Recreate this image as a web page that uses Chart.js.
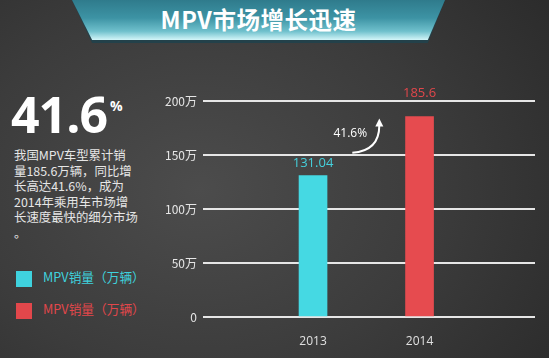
<!DOCTYPE html>
<html><head><meta charset="utf-8">
<script src="https://cdn.jsdelivr.net/npm/chart.js@4/dist/chart.umd.min.js"></script>
<style>
html,body{margin:0;padding:0;width:549px;height:358px;overflow:hidden;}
body{background:radial-gradient(ellipse 420px 330px at 200px 190px,#4c4c4c 0%,#3c3c3c 55%,#2c2c2c 100%);font-family:"Noto Sans CJK SC","Noto Sans",sans-serif;position:relative;}
#wrap{position:absolute;left:0;top:0;width:549px;height:358px;}
#banner{position:absolute;left:72px;top:0;width:373px;height:43px;background:#23414a;clip-path:polygon(0 0,100% 0,95.4% 100%,5.4% 100%);}
#bannerIn{position:absolute;left:72px;top:0;width:373px;height:40px;background:linear-gradient(180deg,#2f7b8c 0%,#3d93a4 45%,#6fc0cc 78%,#d4f6f9 100%);clip-path:polygon(0 0,100% 0,95.4% 100%,5.4% 100%);}
#title{position:absolute;left:72px;top:4px;width:373px;text-align:center;color:#fff;font-weight:bold;font-size:23.5px;line-height:30px;letter-spacing:0.5px;}
#big{position:absolute;left:11px;top:86px;color:#fff;font-family:"Open Sans","Noto Sans",sans-serif;font-weight:bold;font-size:50px;line-height:56px;letter-spacing:-1px;}
#pct{position:absolute;left:110px;top:96px;color:#fff;font-family:"Open Sans",sans-serif;font-weight:bold;font-size:14px;}
#desc{position:absolute;left:14px;top:148px;color:#e6e6e6;font-size:12.4px;line-height:15.5px;}
.leg{position:absolute;left:16px;font-size:12.7px;}
.leg i{display:inline-block;width:16px;height:16px;vertical-align:middle;margin-right:11px;}
</style></head>
<body>
<div id="banner"></div><div id="bannerIn"></div>
<div id="title">MPV市场增长迅速</div>
<div id="big">41.6</div><div id="pct">%</div>
<div id="desc">我国MPV车型累计销<br>量185.6万辆，同比增<br>长高达41.6%，成为<br>2014年乘用车市场增<br>长速度最快的细分市场<br>。</div>
<div class="leg" style="top:267px;color:#3fd2de;"><i style="background:#3fd2de"></i>MPV销量（万辆）</div>
<div class="leg" style="top:299px;color:#e2474b;"><i style="background:#e2474b"></i>MPV销量（万辆）</div>
<div id="wrap"><canvas id="c" width="549" height="358"></canvas></div>
<script>
const years = [2013, 2014];
const sales = [131.04, 185.6];
const valueLabels = ['131.04', '185.6'];
const barColors = ['#45d9e3', '#e64b4f'];
const labelColors = ['#45d0dc', '#e2474b'];
const yTicks = [0, 50, 100, 150, 200];
const growthLabel = '41.6%';

const labelPlugin = {
  id: 'labels',
  afterDatasetsDraw(chart) {
    const ctx = chart.ctx;
    const meta = chart.getDatasetMeta(0);
    const xs = chart.scales.x, ys = chart.scales.y;
    const topLine = ys.getPixelForValue(200);
    ctx.save();
    ctx.font = '13px "Open Sans","Noto Sans",sans-serif';
    ctx.textAlign = 'center';
    ctx.textBaseline = 'middle';
    meta.data.forEach((bar, i) => {
      let ly = bar.y - 12;
      if (ly < topLine + 10) ly = topLine - 8;
      ctx.fillStyle = labelColors[i];
      ctx.fillText(valueLabels[i], bar.x, ly);
    });
    // growth annotation
    const cx = xs.getPixelForValue(2013.35);
    const cy = ys.getPixelForValue(170);
    ctx.fillStyle = '#ffffff';
    ctx.font = '12px "Open Sans","Noto Sans",sans-serif';
    ctx.fillText(growthLabel, cx, cy);
    const sx = cx + 2, sy = ys.getPixelForValue(152);
    const ex = cx + 29, ey = ys.getPixelForValue(181);
    ctx.strokeStyle = '#ffffff';
    ctx.lineWidth = 2;
    ctx.beginPath();
    ctx.moveTo(sx, sy);
    ctx.quadraticCurveTo(ex, sy - 2, ex, ey + 4);
    ctx.stroke();
    ctx.fillStyle = '#ffffff';
    ctx.beginPath();
    ctx.moveTo(ex, ey - 3);
    ctx.lineTo(ex - 4, ey + 5);
    ctx.lineTo(ex + 4, ey + 5);
    ctx.closePath();
    ctx.fill();
    ctx.restore();
  }
};

new Chart(document.getElementById('c'), {
  type: 'bar',
  data: {
    datasets: [{
      data: years.map((y, i) => ({x: y, y: sales[i]})),
      backgroundColor: barColors,
      borderWidth: 0,
      barThickness: 28
    }]
  },
  options: {
    responsive: false,
    animation: false,
    events: [],
    layout: {padding: {left: 0, right: 14, top: 101, bottom: 0}},
    plugins: {legend: {display: false}, tooltip: {enabled: false}},
    scales: {
      x: {
        type: 'linear',
        offset: false,
        bounds: 'ticks',
        min: 2011.967, max: 2015.084,
        grid: {display: false},
        border: {display: false},
        afterBuildTicks: s => { s.ticks = years.map(v => ({value: v})); },
        afterFit: s => { s.height = 41; },
        ticks: {
          color: '#e0e0e0', padding: 9,
          font: {size: 12, family: '"Open Sans","Noto Sans",sans-serif'},
          callback: v => String(v)
        }
      },
      y: {
        min: 0, max: 200,
        afterBuildTicks: s => { s.ticks = yTicks.map(v => ({value: v})); },
        afterFit: s => { s.width = 203; },
        grid: {color: '#e6e6e6', lineWidth: 2, drawTicks: false},
        border: {display: false},
        ticks: {
          color: '#e6e6e6', padding: 6,
          font: {size: 12, family: '"Noto Sans CJK SC","Open Sans",sans-serif'},
          callback: v => v === 0 ? '0' : v + '万'
        }
      }
    }
  },
  plugins: [labelPlugin]
});
</script>
</body></html>
